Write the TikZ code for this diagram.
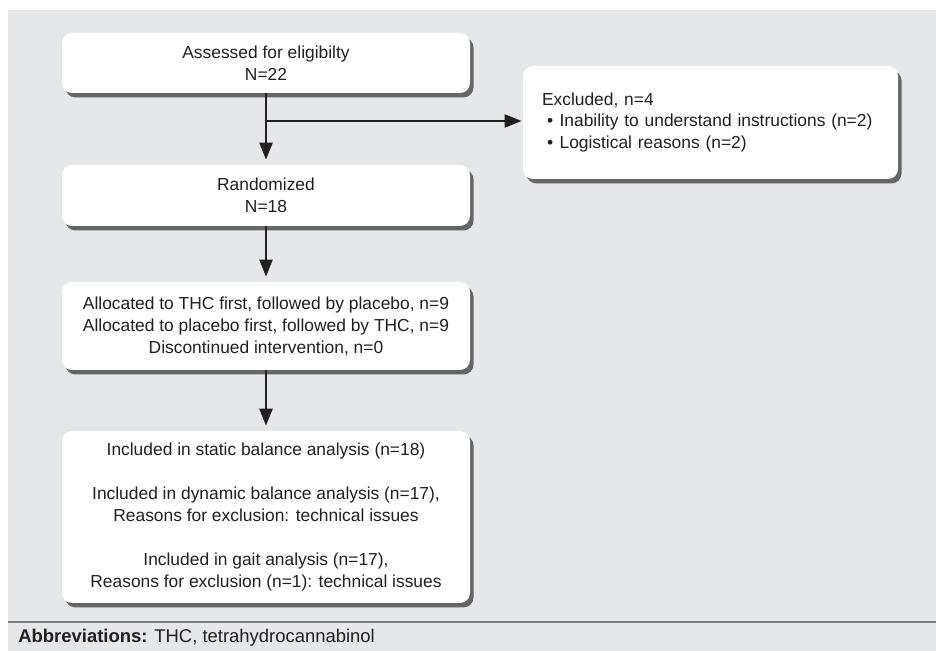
\documentclass[tikz,border=0pt]{standalone}
\usepackage{fontspec}
\setmainfont{Liberation Sans}
\usetikzlibrary{arrows.meta,shadows}
\definecolor{panelgray}{RGB}{230,231,232}
\definecolor{rulegray}{RGB}{125,125,127}
\definecolor{shadowgray}{RGB}{60,60,62}
\definecolor{inkblack}{RGB}{35,31,32}

\begin{document}
\begin{tikzpicture}[
    box/.style={fill=white, rounded corners=0.2cm, align=center, text=inkblack,
      minimum width=8.16cm, inner sep=0pt, font=\fontsize{9.9}{12.5}\selectfont,
      drop shadow={shadow xshift=0.07cm, shadow yshift=-0.09cm,
        fill=shadowgray, opacity=0.75}},
    flow/.style={-{Triangle[length=0.34cm, width=0.26cm]}, line width=1.3pt,
      inkblack, shorten >=0.1cm}]

%% ── PANEL ────────────────────────────────────────────────────────────────────
\useasboundingbox (0,0) rectangle (18.72,13.02);
\fill[panelgray] (0.16,0) rectangle (18.72,12.82);

%% ── MAIN COLUMN ──────────────────────────────────────────────────────────────
\node[box, minimum height=1.2cm] (assessed) at (5.32,11.76)
  {Assessed for eligibilty\\N=22};
\node[box, minimum height=1.22cm] (randomized) at (5.32,9.11)
  {Randomized\\N=18};
\node[box, minimum height=1.76cm] (allocated) at (5.32,6.5)
  {Allocated to THC first, followed by placebo, n=9\\
   Allocated to placebo first, followed by THC, n=9\\
   Discontinued intervention, n=0};
\node[box, minimum height=3.44cm] (included) at (5.32,2.68)
  {Included in static balance analysis (n=18)\\[12.5pt]
   Included in dynamic balance analysis (n=17),\\
   Reasons for exclusion: technical issues\\[12.5pt]
   Included in gait analysis (n=17),\\
   Reasons for exclusion (n=1): technical issues};

%% ── SIDE BOX ─────────────────────────────────────────────────────────────────
\node[box, minimum width=7.5cm, minimum height=2.26cm, text width=6.74cm,
      align=left] (excluded) at (14.21,10.57)
  {Excluded, n=4\\
   \hspace*{0.1cm}\textbullet\hspace{0.13cm}Inability to understand instructions (n=2)\\
   \hspace*{0.1cm}\textbullet\hspace{0.13cm}Logistical reasons (n=2)};

%% ── CONNECTORS ───────────────────────────────────────────────────────────────
\coordinate (branch) at (5.32,10.6);
\draw[flow] (assessed) -- (randomized);
\draw[flow, shorten >=0.02cm] (branch) -- (branch -| excluded.west);
\draw[flow] (randomized) -- (allocated);
\draw[flow] (allocated) -- (included);

%% ── FOOTER ───────────────────────────────────────────────────────────────────
\draw[rulegray, line width=0.85pt] (0.16,0.58) -- (18.72,0.58);
\node[anchor=west, inner sep=0pt, text=inkblack,
      font=\fontsize{10.5}{12}\selectfont] (abbrev) at (0.36,0.27)
  {\textbf{Abbreviations:} THC, tetrahydrocannabinol};

\end{tikzpicture}
\end{document}
